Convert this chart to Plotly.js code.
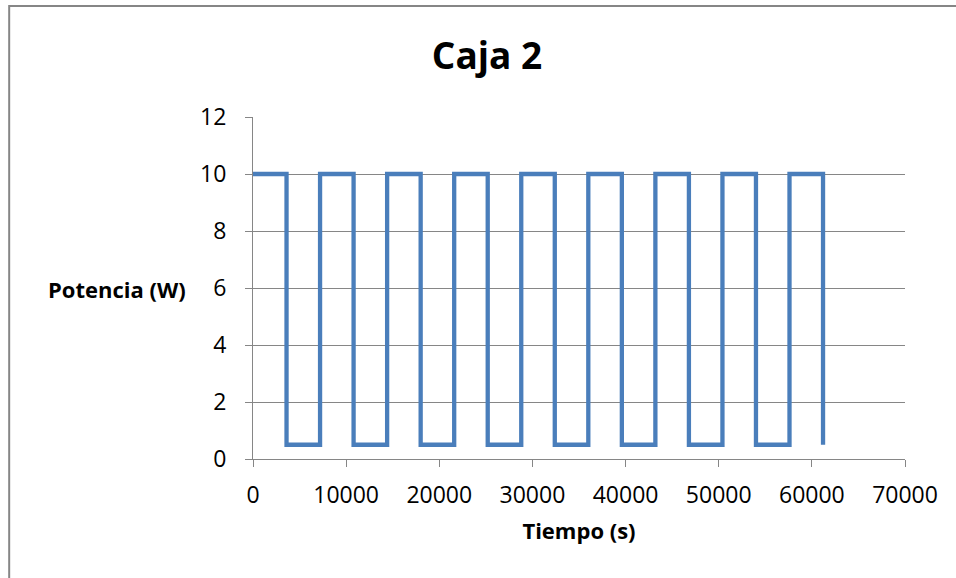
<!DOCTYPE html>
<html>
<head>
<meta charset="utf-8">
<script src="https://cdn.plot.ly/plotly-3.0.1.min.js"></script>
<style>html,body{margin:0;padding:0;background:#fff;}#chart{width:956px;height:578px;}</style>
</head>
<body>
<div id="chart"></div>
<script>
// Switch times (s) and power level (W) after each switch (step data)
var tiempo = [0, 3600, 7200, 10800, 14400, 18000, 21600, 25200, 28800, 32400, 36000, 39600, 43200, 46800, 50400, 54000, 57600, 61200];
var potencia = [10, 0.5, 10, 0.5, 10, 0.5, 10, 0.5, 10, 0.5, 10, 0.5, 10, 0.5, 10, 0.5, 10, 0.5];
var xTicks = [0, 10000, 20000, 30000, 40000, 50000, 60000, 70000];
var yTicks = [0, 2, 4, 6, 8, 10, 12];

var L = 253, R = 905.5, T = 117, B = 459;
function px(x){ return (x - L) / (R - L); }
function py(y){ return (B - y) / (B - T); }

var gray = '#868686';
var trace = {
  x: tiempo, y: potencia, type: 'scatter', mode: 'lines',
  line: {color: '#4A7EBB', width: 4.3, shape: 'hv'},
  hoverinfo: 'x+y'
};
var layout = {
  width: 956, height: 578,
  margin: {l: L, r: 956 - R, t: T, b: 578 - B, pad: 0},
  paper_bgcolor: '#ffffff', plot_bgcolor: '#ffffff',
  showlegend: false,
  font: {family: '"Open Sans", sans-serif', color: '#000'},
  title: {text: '<b>Caja 2</b>', font: {size: 37, family: '"Open Sans", sans-serif', color: '#000'},
          xref: 'container', x: 487/956, xanchor: 'center', yref: 'container', y: 1 - 56/578, yanchor: 'middle'},
  xaxis: {
    range: [0, 70000], tickvals: xTicks, ticktext: xTicks.map(String),
    showgrid: false, zeroline: false, showline: true, linecolor: gray, linewidth: 1,
    ticks: 'outside', ticklen: 7, tickcolor: gray, tickwidth: 1,
    tickfont: {size: 23, color: '#000'}, ticklabelstandoff: 8,
    title: {text: '<b>Tiempo (s)</b>', font: {size: 22, color: '#000'}, standoff: 15},
    fixedrange: true
  },
  yaxis: {
    range: [0, 12], tickvals: yTicks, ticktext: yTicks.map(String),
    showgrid: true, gridcolor: gray, gridwidth: 1, zeroline: false,
    showline: true, linecolor: gray, linewidth: 1,
    ticks: 'outside', ticklen: 7, tickcolor: gray, tickwidth: 1,
    tickfont: {size: 23, color: '#000'}, ticklabelstandoff: 14,
    fixedrange: true
  },
  annotations: [{
    text: '<b>Potencia (W)</b>', xref: 'paper', yref: 'paper',
    x: px(188), y: py(289), xanchor: 'right', yanchor: 'middle', showarrow: false,
    font: {size: 22, color: '#000'}
  }],
  shapes: [
    {type: 'line', xref: 'paper', yref: 'paper', x0: px(9), x1: px(960), y0: py(6), y1: py(6), line: {color: gray, width: 2}},
    {type: 'line', xref: 'paper', yref: 'paper', x0: px(9), x1: px(9), y0: py(5), y1: py(582), line: {color: gray, width: 2}}
  ]
};
Plotly.newPlot('chart', [trace], layout, {displayModeBar: false, staticPlot: true});
</script>
</body>
</html>
